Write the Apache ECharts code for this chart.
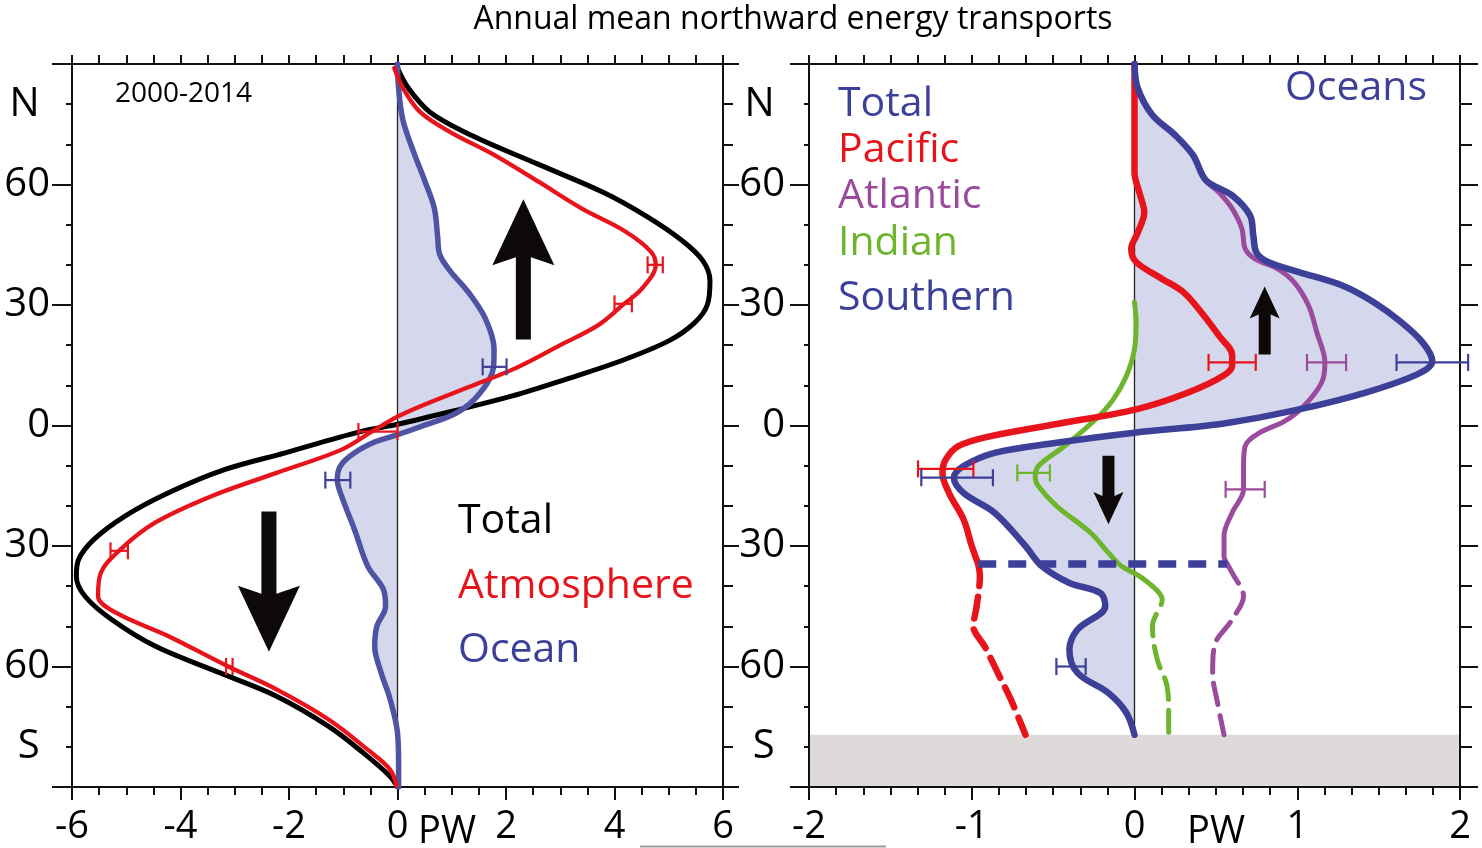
<!DOCTYPE html>
<html><head><meta charset="utf-8">
<script src="https://cdn.jsdelivr.net/npm/echarts@6/dist/echarts.min.js"></script>
<style>html,body{margin:0;padding:0;background:#fff}#c{width:1482px;height:848px}</style>
</head><body><div id="c"></div>
<script>
// ---------------- DATA ([PW, latitude]) ----------------
// Left panel: total, atmosphere, ocean
const leftTotal = [[0.0,89],[0.2,84],[0.6,78],[1.4,72],[2.6,65],[3.8,58],[4.6,52],[5.25,46],[5.63,41],[5.76,36],[5.71,30],[5.47,25.5],[4.99,21],[4.1,16],[3.1,11.5],[2.1,7.3],[1.05,3.7],[0.0,0.3],[-0.7,-1.6],[-2.07,-6.8],[-3.19,-11],[-4.23,-16.8],[-5.03,-22.6],[-5.6,-28.4],[-5.88,-33.4],[-5.92,-37.5],[-5.76,-42.5],[-5.27,-48.3],[-4.47,-54.9],[-3.27,-61.6],[-2.23,-67.4],[-1.27,-74.9],[-0.63,-81.5],[-0.14,-87.3],[0,-90]];
const leftAtmos = [[-0.06,89],[0.1,84],[0.42,78],[0.98,73],[1.78,67.4],[2.6,60.7],[3.4,54],[4.2,48.3],[4.67,43.3],[4.76,40],[4.5,34],[4.15,30],[3.7,25],[3.0,20],[2.2,14.4],[1.3,9.5],[0.55,5.5],[0.0,2.2],[-0.46,-1.4],[-1.03,-6],[-2.23,-11.8],[-3.43,-17.6],[-4.47,-24.2],[-5.11,-30.9],[-5.47,-36.7],[-5.52,-42.5],[-5.19,-46.6],[-4.23,-52.4],[-3.12,-60],[-2.23,-65.7],[-1.27,-73.2],[-0.55,-80.7],[-0.14,-85.6],[-0.02,-89.6]];
const leftOcean = [[0,90],[0.02,84],[0.1,76],[0.3,68],[0.5,61],[0.68,54],[0.74,47],[0.78,42.5],[0.98,38.3],[1.3,33.3],[1.62,26.6],[1.78,19],[1.77,14.5],[1.53,8.2],[1.1,3.2],[0.42,-0.3],[0,-2.3],[-0.4,-4],[-0.79,-6.8],[-1.05,-10],[-1.11,-13.5],[-1.03,-17.6],[-0.79,-26],[-0.55,-35],[-0.26,-40.8],[-0.22,-45],[-0.38,-50],[-0.42,-55],[-0.3,-61.6],[-0.14,-68],[0,-76.5],[0.02,-84],[0.02,-90]];
// error bars [centre PW, latitude, half-width PW]
const leftAtmosErr = [[4.75,40,0.14],[4.16,30.3,0.16],[-0.36,-1.5,0.36],[-5.13,-31.2,0.16],[-3.1,-60,0.06]];
const leftOceanErr = [[1.79,14.6,0.22],[-1.1,-13.6,0.23]];
// arrows [PW, tail latitude, tip latitude]
const leftArrows = [[2.32,21.4,56.3],[-2.37,-21.4,-56.3]];

// Right panel: ocean basins
const oceanTotal = [[0,90],[0.02,84],[0.11,77.3],[0.25,72.3],[0.36,67.3],[0.44,61],[0.6,57.3],[0.71,52.3],[0.73,47.3],[0.75,43],[0.82,40.7],[1.01,38.2],[1.28,34.8],[1.47,30.7],[1.64,25.7],[1.77,20.7],[1.83,16],[1.74,12.8],[1.42,8.2],[1.01,4],[0.55,0.5],[0,-1.8],[-0.48,-4.3],[-0.86,-6.8],[-1.05,-10.1],[-1.11,-13],[-1.05,-16.8],[-0.86,-21.7],[-0.67,-30],[-0.57,-35],[-0.4,-39.2],[-0.21,-41.7],[-0.18,-45],[-0.35,-50.8],[-0.4,-55.8],[-0.35,-61.6],[-0.16,-66.6],[-0.05,-71.5],[0,-77]];
const pacificSolid = [[0,90],[0,63],[0.03,58],[0.06,53],[0.02,48],[-0.02,44],[0.01,40.7],[0.17,36.5],[0.3,33.2],[0.41,28.2],[0.52,22.3],[0.6,17.5],[0.6,15],[0.55,12.5],[0.33,8.2],[0.01,4],[-0.46,0.5],[-0.89,-2.7],[-1.08,-5.1],[-1.16,-8.5],[-1.18,-11.8],[-1.14,-16.8],[-1.05,-23.4],[-1.0,-30],[-0.96,-34.5]];
const pacificDash = [[-0.96,-34.5],[-0.95,-37.5],[-0.97,-45],[-0.99,-50],[-0.92,-55],[-0.84,-61.6],[-0.76,-68.2],[-0.67,-77]];
const atlanticSolid = [[0,90],[0.02,84],[0.11,77.3],[0.25,72.3],[0.36,67.3],[0.44,61],[0.52,58],[0.6,54],[0.66,49],[0.68,44],[0.74,41.5],[0.88,39],[0.98,35.7],[1.07,29.8],[1.12,23.2],[1.17,15.7],[1.15,10.7],[1.04,4.8],[0.92,1],[0.77,-1.8],[0.68,-5.1],[0.67,-10.1],[0.67,-15.9],[0.6,-21.7],[0.55,-27.5],[0.55,-32.5],[0.57,-34.5]];
const atlanticDash = [[0.57,-34.5],[0.6,-36.7],[0.67,-42.5],[0.6,-48.3],[0.49,-55],[0.48,-61.6],[0.51,-69],[0.55,-77]];
const indianSolid = [[0,30.7],[0.01,25.7],[0,19],[-0.05,12.3],[-0.13,6.5],[-0.24,1.5],[-0.43,-5.1],[-0.59,-10.1],[-0.61,-13],[-0.59,-15.1],[-0.48,-20],[-0.27,-26.7],[-0.16,-31.7],[-0.08,-35],[0.03,-37.5],[0.11,-40]];
const indianDash = [[0.11,-40],[0.17,-43.3],[0.11,-50],[0.14,-58.3],[0.2,-64.9],[0.21,-71.5],[0.21,-77]];
const southernBoundary = [[-0.96,-34.5],[0.57,-34.5]];
const pacificErr = [[0.6,15.7,0.145],[-1.16,-10.8,0.17]];
const totalOceanErr = [[1.83,15.7,0.22],[-1.09,-13,0.22],[-0.39,-60,0.09]];
const atlanticErr = [[1.18,15.7,0.12],[0.68,-15.9,0.12]];
const indianErr = [[-0.62,-11.8,0.1]];
const rightArrows = [[0.8,17.7,34.6],[-0.16,-7.5,-24.6]];
const antarctica = [[-2,-90,2,-77]];

// tick labels
const leftXTicks = {min:-6, max:6, step:2};
const rightXTicks = {min:-2, max:2, step:1};
const latLabelValues = [-80,-60,-30,0,30,60,80];
const latLabel = v => v === 80 ? 'N ' : (v === -80 ? 'S ' : String(Math.abs(v)));

// ---------------- STYLE ----------------
const FONT = "'Open Sans', 'Noto Sans', sans-serif";
const C = {red:'#e8141c', navy:'#3d4098', blue:'#4e53a4', purple:'#9b4b9e', green:'#6cb52d', fill:'#d5d7ec', land:'#dedada', ink:'#111'};

const chart = echarts.init(document.getElementById('c'), null, {renderer:'canvas'});

function xAx(grid, t, pos, minorSplit){
  return {type:'value', gridIndex:grid, position:pos, min:t.min, max:t.max, interval:t.step,
    axisLine:{show:true, onZero:false, lineStyle:{color:C.ink, width:2}},
    axisTick:{show:true, inside:false, length: pos==='bottom'?13:9, lineStyle:{color:C.ink, width:2}},
    minorTick:{show:true, splitNumber:minorSplit, length: pos==='bottom'?8:9, lineStyle:{color:C.ink, width:2}},
    splitLine:{show:false}, minorSplitLine:{show:false},
    axisLabel:{show: pos==='bottom', margin:21, fontFamily:FONT, fontSize:38, color:'#000'}};
}
function yAx(grid, pos, major, minor, labels, margin){
  return {type:'value', gridIndex:grid, position:pos, min:-90, max:90, interval:30,
    axisLine:{show:true, onZero:false, lineStyle:{color:C.ink, width:2}},
    axisTick:{show:true, inside:false, length:major, lineStyle:{color:C.ink, width:2}},
    minorTick:{show:true, splitNumber:3, length:minor, lineStyle:{color:C.ink, width:2}},
    splitLine:{show:false}, minorSplitLine:{show:false},
    axisLabel:{show:labels, margin:margin, fontFamily:FONT, fontSize:40, color:'#000',
      customValues: latLabelValues, formatter: latLabel}};
}

function lineS(xi, data, color, width, dash, z){
  return {type:'line', xAxisIndex:xi, yAxisIndex:xi, data:data, showSymbol:false, symbol:'none',
    smooth:0.35, silent:true, z:z||3,
    lineStyle:{color:color, width:width, type: dash || 'solid', cap:'round', join:'round'}};
}
function fillS(xi, data){
  return {type:'custom', xAxisIndex:xi, yAxisIndex:xi, data:[[0,0]], silent:true, z:1,
    renderItem:(p, api)=>({type:'polygon', shape:{points:data.map(d=>api.coord(d)), smooth:0.3},
      style:{fill:C.fill}})};
}
function errS(xi, data, color){
  return {type:'custom', xAxisIndex:xi, yAxisIndex:xi, data:data, silent:true, z:5,
    renderItem:(p, api)=>{
      const x = api.value(0), y = api.value(1), h = api.value(2);
      const a = api.coord([x-h, y]), b = api.coord([x+h, y]);
      const cap = 8.5, st = {stroke:color, lineWidth:2.2};
      return {type:'group', children:[
        {type:'line', shape:{x1:a[0],y1:a[1],x2:b[0],y2:b[1]}, style:st},
        {type:'line', shape:{x1:a[0],y1:a[1]-cap,x2:a[0],y2:a[1]+cap}, style:st},
        {type:'line', shape:{x1:b[0],y1:b[1]-cap,x2:b[0],y2:b[1]+cap}, style:st}]};
    }};
}
function arrowS(xi, data, sw, hw){
  return {type:'custom', xAxisIndex:xi, yAxisIndex:xi, data:data, silent:true, z:4,
    renderItem:(p, api)=>{
      const T = api.coord([api.value(0), api.value(1)]);
      const P = api.coord([api.value(0), api.value(2)]);
      const cx = T[0], s = Math.sign(P[1]-T[1]), L = Math.abs(P[1]-T[1]);
      const hl = 0.47*L, by = P[1]-s*hl, jy = by + s*0.12*hl;
      return {type:'polygon', shape:{points:[[cx-sw,T[1]],[cx-sw,jy],[cx-hw,by],[cx,P[1]],[cx+hw,by],[cx+sw,jy],[cx+sw,T[1]]]},
        style:{fill:'#0e0909'}};
    }};
}

const texts = [
  {t:'Annual mean northward energy transports', x:793, y:20, s:32, c:'#000', a:'center'},
  {t:'2000-2014', x:115, y:94, s:28, c:'#000', a:'left'},
  {t:'Total', x:458, y:521, s:41, c:'#000', a:'left'},
  {t:'Atmosphere', x:458, y:586, s:41, c:C.red, a:'left'},
  {t:'Ocean', x:458, y:650, s:41, c:C.navy, a:'left'},
  {t:'Total', x:838, y:104, s:41, c:C.navy, a:'left'},
  {t:'Pacific', x:838, y:150, s:41, c:C.red, a:'left'},
  {t:'Atlantic', x:838, y:196, s:41, c:C.purple, a:'left'},
  {t:'Indian', x:838, y:243, s:41, c:C.green, a:'left'},
  {t:'Southern', x:838, y:298, s:41, c:C.navy, a:'left'},
  {t:'Oceans', x:1427, y:88, s:41, c:C.navy, a:'right'},
  {t:'PW', x:447, y:832, s:38, c:'#000', a:'center'},
  {t:'PW', x:1216, y:832, s:38, c:'#000', a:'center'}
];

const option = {
  animation:false,
  backgroundColor:'#fff',
  grid:[{left:72, top:64, width:651, height:723}, {left:809, top:64, width:651, height:723}],
  xAxis:[xAx(0,leftXTicks,'bottom',4), xAx(0,leftXTicks,'top',4), xAx(1,rightXTicks,'bottom',6), xAx(1,rightXTicks,'top',6)],
  yAxis:[yAx(0,'left',20,6,true,22), yAx(0,'right',16,10,false,0), yAx(1,'left',19,5,true,24), yAx(1,'right',18,12,false,0)],
  series:[
    // left panel
    fillS(0, leftOcean),
    lineS(0, [[0,90],[0,-90]], '#222', 1.3, 'solid', 2),
    lineS(0, leftTotal, '#000', 5),
    lineS(0, leftOcean, C.blue, 5.5),
    lineS(0, leftAtmos, C.red, 4.3),
    errS(0, leftAtmosErr, C.red),
    errS(0, leftOceanErr, C.navy),
    arrowS(0, leftArrows, 7.5, 31),
    // right panel
    {type:'custom', xAxisIndex:2, yAxisIndex:2, data:antarctica, silent:true, z:1,
      renderItem:(p, api)=>{const a=api.coord([api.value(0),api.value(3)]), b=api.coord([api.value(2),api.value(1)]);
        return {type:'rect', shape:{x:a[0]+1, y:a[1], width:b[0]-a[0]-2, height:b[1]-a[1]-1}, style:{fill:C.land}};}},
    fillS(2, oceanTotal),
    lineS(2, [[0,90],[0,-77]], '#222', 1.3, 'solid', 2),
    lineS(2, atlanticSolid, C.purple, 5),
    lineS(2, atlanticDash, C.purple, 5, [22,11]),
    lineS(2, indianSolid, C.green, 5),
    lineS(2, indianDash, C.green, 5, [22,11]),
    lineS(2, pacificSolid, C.red, 6.5),
    lineS(2, pacificDash, C.red, 6.5, [22,11]),
    lineS(2, oceanTotal, C.navy, 6.5, 'solid', 4),
    {type:'line', xAxisIndex:2, yAxisIndex:2, data:southernBoundary, showSymbol:false, silent:true, z:4,
      lineStyle:{color:C.navy, width:7.5, type:[18,12]}},
    errS(2, pacificErr, C.red),
    errS(2, totalOceanErr, C.navy),
    errS(2, atlanticErr, C.purple),
    errS(2, indianErr, C.green),
    arrowS(2, rightArrows, 6, 15)
  ],
  graphic: texts.map(o=>({type:'text', z:10, silent:true,
    style:{text:o.t, x:o.x, y:o.y, fill:o.c, font:`${o.s}px ${FONT}`, align:o.a, verticalAlign:'middle', textAlign:o.a, textVerticalAlign:'middle'}}))
    .concat([{type:'line', silent:true, shape:{x1:640,y1:846.5,x2:886,y2:846.5}, style:{stroke:'#9a9a9a', lineWidth:2}}])
};
chart.setOption(option);
</script></body></html>
